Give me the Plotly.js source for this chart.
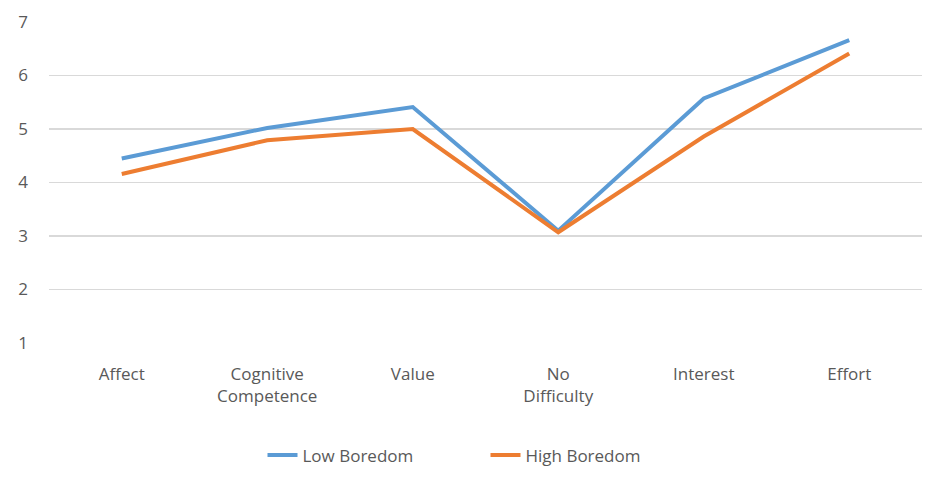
<!DOCTYPE html>
<html>
<head>
<meta charset="utf-8">
<script src="https://cdn.plot.ly/plotly-3.0.1.min.js"></script>
<style>html,body{margin:0;padding:0;background:#fff;}#chart{width:930px;height:488px;}</style>
</head>
<body>
<div id="chart"></div>
<script>
const categories = ["Affect", "Cognitive<br>Competence", "Value", "No<br>Difficulty", "Interest", "Effort"];
const lowBoredom = [4.45, 5.02, 5.41, 3.1, 5.57, 6.66];
const highBoredom = [4.16, 4.79, 5.0, 3.07, 4.86, 6.41];
const yTicks = [1, 2, 3, 4, 5, 6, 7];

const font = {family: "Open Sans, Liberation Sans, sans-serif", size: 17, color: "#595959"};

const traces = [
  {x: categories, y: lowBoredom, name: "Low Boredom", type: "scatter", mode: "lines",
   line: {color: "#5B9BD5", width: 4}},
  {x: categories, y: highBoredom, name: "High Boredom", type: "scatter", mode: "lines",
   line: {color: "#ED7D31", width: 4}}
];

const layout = {
  width: 930, height: 488,
  margin: {l: 49, r: 8, t: 22, b: 145},
  paper_bgcolor: "#fff", plot_bgcolor: "#fff",
  font: font,
  showlegend: true,
  legend: {orientation: "h", x: 0.5, xanchor: "center", y: -0.35, yanchor: "middle",
           font: font, entrywidth: 178, entrywidthmode: "pixels", traceorder: "normal"},
  xaxis: {type: "category", range: [-0.5, 5.5], showgrid: false, zeroline: false, showline: false,
          ticks: "", tickfont: font, ticklabelstandoff: 19},
  yaxis: {range: [1, 7], tickvals: yTicks, showgrid: true, gridcolor: "#d9d9d9", gridwidth: 1.5,
          zeroline: false, showline: false, ticks: "", tickfont: font, ticklabelstandoff: 20}
};

Plotly.newPlot("chart", traces, layout, {displayModeBar: false, staticPlot: true});
</script>
</body>
</html>
